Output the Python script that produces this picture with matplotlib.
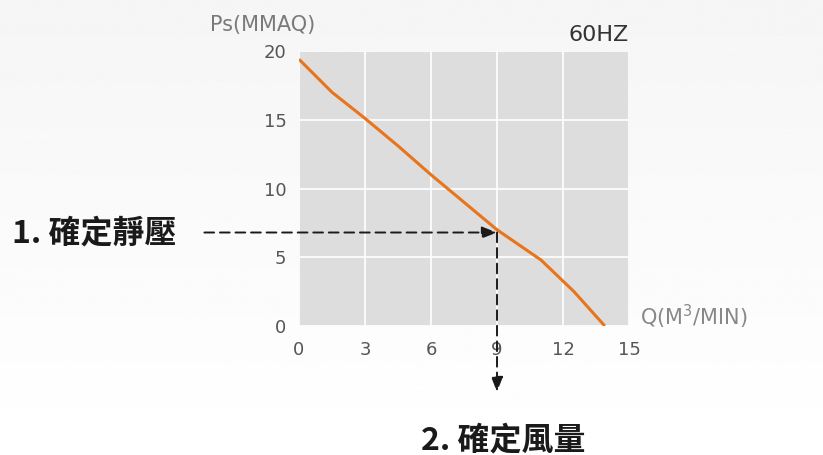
import numpy as np
import matplotlib.pyplot as plt

plt.rcParams['font.family'] = ['DejaVu Sans', 'Noto Sans CJK TC']

# 風量-靜壓曲線 (60HZ)
flow = [0, 1.5, 3, 4.5, 6, 7.5, 9, 11, 12.5, 13.9]
pressure = [19.4, 17.0, 15.1, 13.1, 11.0, 9.0, 7.0, 4.8, 2.5, 0]

x_ticks = [0, 3, 6, 9, 12, 15]
y_ticks = [0, 5, 10, 15, 20]

# 選定點
pick_q = 9
pick_ps = 6.8

fig = plt.figure(figsize=(8.23, 4.55), dpi=100)

# 背景漸層 (上淺灰 -> 下白)
bg = fig.add_axes([0, 0, 1, 1], zorder=-10)
grad = np.linspace(0.962, 1.0, 256).reshape(-1, 1)
bg.imshow(grad, aspect='auto', cmap='gray', vmin=0, vmax=1,
          extent=[0, 1, 0, 1], origin='upper')
bg.axis('off')

ax = fig.add_axes([0.3633, 0.2835, 0.401, 0.6044])
ax.set_facecolor('#dddddd')
ax.set_xlim(0, 15)
ax.set_ylim(0, 20)
ax.set_xticks(x_ticks)
ax.set_yticks(y_ticks)
ax.grid(True, color='white', lw=1.2)
ax.set_axisbelow(True)
for s in ax.spines.values():
    s.set_visible(False)
ax.tick_params(length=0, labelsize=13, colors='#555555')
ax.tick_params(axis='x', pad=11)
ax.tick_params(axis='y', pad=9)

ax.plot(flow, pressure, color='#e8741c', lw=2.2, solid_capstyle='butt', zorder=3)

# 虛線箭頭
ax.annotate('', xy=(pick_q, pick_ps), xytext=(-4.3, pick_ps),
            arrowprops=dict(arrowstyle='-|>,head_length=0.9,head_width=0.35',
                            color='#1a1a1a', lw=1.4, linestyle=(0, (5, 3)),
                            shrinkA=0, shrinkB=0),
            annotation_clip=False, zorder=4)
ax.annotate('', xy=(pick_q, -4.8), xytext=(pick_q, pick_ps),
            arrowprops=dict(arrowstyle='-|>,head_length=0.9,head_width=0.35',
                            color='#1a1a1a', lw=1.4, linestyle=(0, (5, 3)),
                            shrinkA=0, shrinkB=0),
            annotation_clip=False, zorder=4)

fig.text(0.255, 0.946, 'Ps(MMAQ)', fontsize=15, color='#7a7a7a',
         ha='left', va='center')
fig.text(0.764, 0.923, '60HZ', fontsize=16, color='#333333',
         ha='right', va='center')
fig.text(0.778, 0.303, 'Q(M$^3$/MIN)', fontsize=15, color='#888888',
         ha='left', va='center')

cjk = ['Noto Sans CJK TC', 'DejaVu Sans']
fig.text(0.014, 0.487, '1. 確定靜壓', fontsize=23, fontweight='bold',
         family=cjk, color='#1a1a1a', ha='left', va='center')
fig.text(0.512, 0.033, '2. 確定風量', fontsize=23, fontweight='bold',
         family=cjk, color='#1a1a1a', ha='left', va='center')

fig.savefig('out.png', dpi=100)
